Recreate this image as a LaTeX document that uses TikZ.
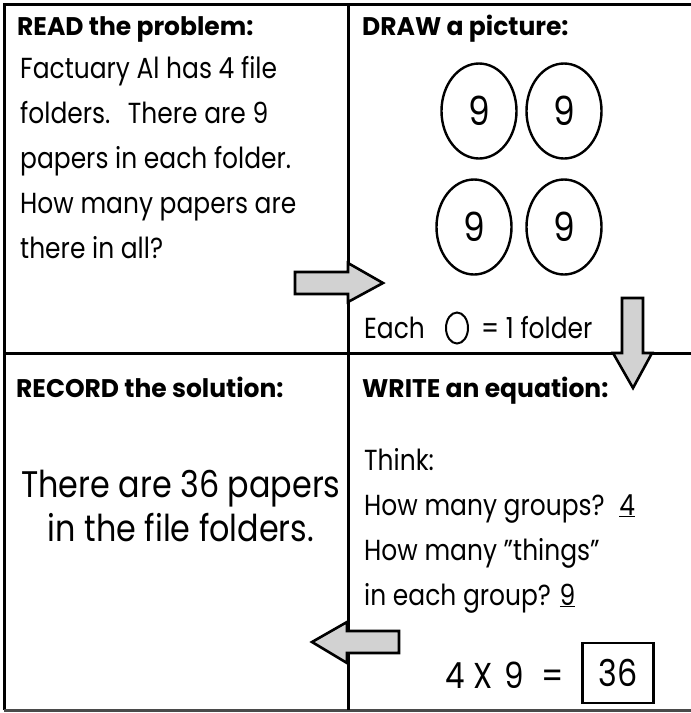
\documentclass[tikz,border=0pt]{standalone}
\usepackage{fontspec}
\setmainfont[FakeStretch=0.86]{Poppins}
\newfontfamily\headfont[FakeStretch=0.98]{Poppins}
\usetikzlibrary{shapes.geometric}
\definecolor{arrowgray}{HTML}{D2D2D2}
\definecolor{edgegray}{HTML}{4A4A4A}
\begin{document}
\begin{tikzpicture}[x=1pt,y=-1pt,
  frame/.style={line width=3pt},
  blockarrow/.style={draw=black,fill=arrowgray,line width=2.6pt,line join=miter},
  folder/.style={draw,ellipse,line width=2.4pt,inner sep=0pt,minimum width=75pt,minimum height=95pt,font=\fontsize{40}{40}\selectfont},
  head/.style={anchor=base west,inner sep=0pt,font=\headfont\bfseries\fontsize{25.5}{25.5}\selectfont},
  body/.style={anchor=base west,inner sep=0pt,font=\fontsize{29}{29}\selectfont},
  big/.style={anchor=base,inner sep=0pt,font=\fontsize{37}{37}\selectfont}]
\useasboundingbox (0,0) rectangle (691,713);
% frame and dividers
\coordinate (tl) at (4,4);
\coordinate (tr) at (691,4);
\coordinate (bl) at (4,710);
\coordinate (br) at (691,710);
\coordinate (vt) at (348,4);
\coordinate (vb) at (348,710);
\coordinate (hl) at (4,353);
\coordinate (hr) at (691,353);
\draw[frame] (tr) -- (tl) -- (bl);
\draw[frame,draw=edgegray] (bl) -- (br);
\draw[frame] (vt) -- (vb);
\draw[frame] (hl) -- (hr);
% READ
\node[head] (readh) at (17,35) {READ the problem:};
\node[body] (r1) at (20,78) {Factuary Al has 4 file};
\node[body] (r2) at (20,123) {folders.\hspace{0.3em} There are 9};
\node[body] (r3) at (20,168) {papers in each folder.};
\node[body] (r4) at (20,213) {How many papers are};
\node[body] (r5) at (20,258) {there in all?};
% DRAW
\node[head] (drawh) at (362,35) {DRAW a picture:};
\node[folder] (f1) at (479,111) {9};
\node[folder] (f2) at (564,111) {9};
\node[folder] (f3) at (474,227) {9};
\node[folder] (f4) at (564,227) {9};
\node[body] (each) at (364,338) {Each};
\node[draw,ellipse,line width=2pt,inner sep=0pt,minimum width=22pt,minimum height=31pt] (eov) at (457,328) {};
\node[body] (eq1) at (481,338) {= 1 folder};
% RECORD
\node[head] (rech) at (16,397) {RECORD the solution:};
\node[big] (s1) at (181,497) {There are 36 papers};
\node[big] (s2) at (181,541) {in the file folders.};
% WRITE
\node[head] (writh) at (362,397) {WRITE an equation:};
\node[body] (t1) at (364,470) {Think:};
\node[body] (t2) at (364,515) {How many groups?\hspace{0.5em}\underline{4}};
\node[body] (t3) at (364,560) {How many "things"};
\node[body] (t4) at (364,605) {in each group?\hspace{0.3em}\underline{9}};
\node[anchor=base west,inner sep=0pt,font=\fontsize{36}{36}\selectfont] (eqn) at (445,688) {4\hspace{9pt}X\hspace{12pt}9\hspace{17pt}=};
\node[draw,line width=2.4pt,minimum width=71pt,minimum height=60pt,inner sep=0pt,font=\fontsize{37}{37}\selectfont] (ans) at (618,673) {36};
% arrows
\draw[blockarrow] (295,272) -- (348,272) -- (348,263) -- (383,283) -- (348,302) -- (348,294) -- (295,294) -- cycle;
\draw[blockarrow] (622,298) -- (643,298) -- (643,353) -- (652,353) -- (633,388) -- (613,353) -- (622,353) -- cycle;
\draw[blockarrow] (399,631) -- (347,631) -- (347,622) -- (312,642) -- (347,663) -- (347,653) -- (399,653) -- cycle;
\end{tikzpicture}
\end{document}
